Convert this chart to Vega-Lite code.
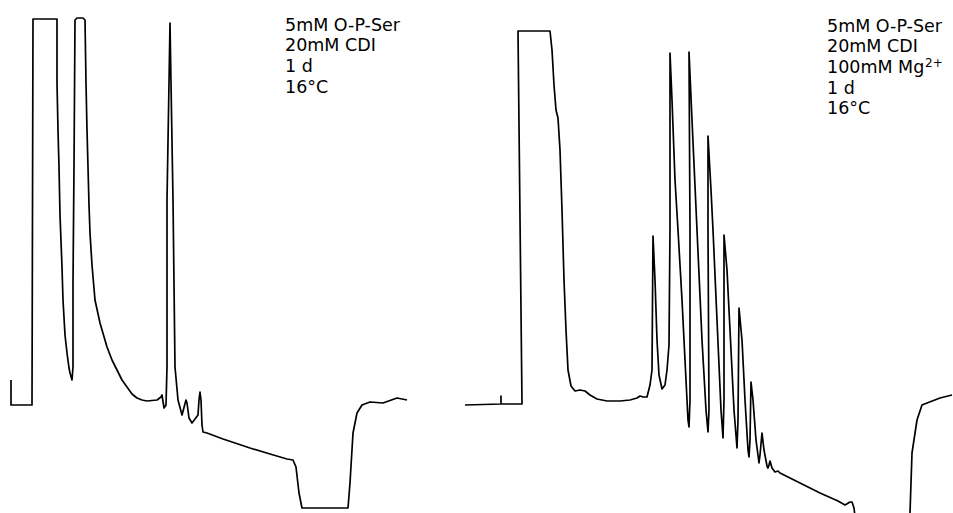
{
  "$schema": "https://vega.github.io/schema/vega-lite/v6.json",
  "width": 953,
  "height": 513,
  "autosize": {"type": "fit", "contains": "padding"},
  "padding": 0,
  "background": "white",
  "config": {"view": {"stroke": null}},
  "datasets": {
    "trace": [
      {"s":"A","i":1,"t":11,"v":133},{"s":"A","i":2,"t":11,"v":108},{"s":"A","i":3,"t":32,"v":108},{"s":"A","i":4,"t":33,"v":494},{"s":"A","i":5,"t":57,"v":494},{"s":"A","i":6,"t":57,"v":430},{"s":"A","i":7,"t":58,"v":383},{"s":"A","i":8,"t":59,"v":346},{"s":"A","i":9,"t":60,"v":298},{"s":"A","i":10,"t":62,"v":246},{"s":"A","i":11,"t":63,"v":213},{"s":"A","i":12,"t":65,"v":178},{"s":"A","i":13,"t":67,"v":160},{"s":"A","i":14,"t":69,"v":145},{"s":"A","i":15,"t":70,"v":140},{"s":"A","i":16,"t":72,"v":133},{"s":"A","i":17,"t":73,"v":146},{"s":"A","i":18,"t":73,"v":230},{"s":"A","i":19,"t":74,"v":346},{"s":"A","i":20,"t":75,"v":493},{"s":"A","i":21,"t":77,"v":495},{"s":"A","i":22,"t":83,"v":495},{"s":"A","i":23,"t":85,"v":493},{"s":"A","i":24,"t":86,"v":430},{"s":"A","i":25,"t":87,"v":383},{"s":"A","i":26,"t":88,"v":346},{"s":"A","i":27,"t":89,"v":308},{"s":"A","i":28,"t":90,"v":280},{"s":"A","i":29,"t":92,"v":248},{"s":"A","i":30,"t":95,"v":213},{"s":"A","i":31,"t":100,"v":190},{"s":"A","i":32,"t":107,"v":166},{"s":"A","i":33,"t":112,"v":153},{"s":"A","i":34,"t":117,"v":143},{"s":"A","i":35,"t":122,"v":133},{"s":"A","i":36,"t":127,"v":126},{"s":"A","i":37,"t":132,"v":119},{"s":"A","i":38,"t":137,"v":115},{"s":"A","i":39,"t":142,"v":113},{"s":"A","i":40,"t":147,"v":112},{"s":"A","i":41,"t":157,"v":113},{"s":"A","i":42,"t":161,"v":116},{"s":"A","i":43,"t":162,"v":118},{"s":"A","i":44,"t":164,"v":105},{"s":"A","i":45,"t":166,"v":108},{"s":"A","i":46,"t":167,"v":146},{"s":"A","i":47,"t":167,"v":313},{"s":"A","i":48,"t":169,"v":430},{"s":"A","i":49,"t":170,"v":490},{"s":"A","i":50,"t":171,"v":430},{"s":"A","i":51,"t":173,"v":313},{"s":"A","i":52,"t":175,"v":146},{"s":"A","i":53,"t":178,"v":113},{"s":"A","i":54,"t":182,"v":98},{"s":"A","i":55,"t":186,"v":113},{"s":"A","i":56,"t":187,"v":110},{"s":"A","i":57,"t":189,"v":95},{"s":"A","i":58,"t":192,"v":90},{"s":"A","i":59,"t":198,"v":98},{"s":"A","i":60,"t":199,"v":113},{"s":"A","i":61,"t":200,"v":121},{"s":"A","i":62,"t":201,"v":113},{"s":"A","i":63,"t":202,"v":88},{"s":"A","i":64,"t":203,"v":81},{"s":"A","i":65,"t":207,"v":80},{"s":"A","i":66,"t":223,"v":74},{"s":"A","i":67,"t":250,"v":65},{"s":"A","i":68,"t":270,"v":59},{"s":"A","i":69,"t":287,"v":54},{"s":"A","i":70,"t":293,"v":53},{"s":"A","i":71,"t":296,"v":46},{"s":"A","i":72,"t":299,"v":20},{"s":"A","i":73,"t":302,"v":5},{"s":"A","i":74,"t":348,"v":5},{"s":"A","i":75,"t":350,"v":30},{"s":"A","i":76,"t":353,"v":80},{"s":"A","i":77,"t":357,"v":100},{"s":"A","i":78,"t":362,"v":108},{"s":"A","i":79,"t":370,"v":111},{"s":"A","i":80,"t":383,"v":110},{"s":"A","i":81,"t":397,"v":115},{"s":"A","i":82,"t":407,"v":113},
      {"s":"B1","i":1,"t":465,"v":108},{"s":"B1","i":2,"t":501,"v":109},{"s":"B1","i":3,"t":501,"v":117},{"s":"B1","i":4,"t":501,"v":109},{"s":"B1","i":5,"t":522,"v":109},{"s":"B1","i":6,"t":518,"v":482},{"s":"B1","i":7,"t":550,"v":482},{"s":"B1","i":8,"t":552,"v":463},{"s":"B1","i":9,"t":554,"v":428},{"s":"B1","i":10,"t":556,"v":403},{"s":"B1","i":11,"t":558,"v":395},{"s":"B1","i":12,"t":560,"v":363},{"s":"B1","i":13,"t":562,"v":303},{"s":"B1","i":14,"t":564,"v":233},{"s":"B1","i":15,"t":566,"v":183},{"s":"B1","i":16,"t":568,"v":143},{"s":"B1","i":17,"t":571,"v":127},{"s":"B1","i":18,"t":575,"v":122},{"s":"B1","i":19,"t":580,"v":123},{"s":"B1","i":20,"t":585,"v":122},{"s":"B1","i":21,"t":590,"v":118},{"s":"B1","i":22,"t":597,"v":114},{"s":"B1","i":23,"t":607,"v":112},{"s":"B1","i":24,"t":620,"v":112},{"s":"B1","i":25,"t":630,"v":113},{"s":"B1","i":26,"t":637,"v":115},{"s":"B1","i":27,"t":640,"v":117},{"s":"B1","i":28,"t":643,"v":116},{"s":"B1","i":29,"t":647,"v":116},{"s":"B1","i":30,"t":650,"v":128},{"s":"B1","i":31,"t":652,"v":143},{"s":"B1","i":32,"t":653,"v":277},{"s":"B1","i":33,"t":655,"v":233},{"s":"B1","i":34,"t":657,"v":173},{"s":"B1","i":35,"t":659,"v":138},{"s":"B1","i":36,"t":662,"v":124},{"s":"B1","i":37,"t":665,"v":128},{"s":"B1","i":38,"t":667,"v":143},{"s":"B1","i":39,"t":669,"v":168},{"s":"B1","i":40,"t":670,"v":283},{"s":"B1","i":41,"t":670,"v":460},{"s":"B1","i":42,"t":672,"v":413},{"s":"B1","i":43,"t":675,"v":333},{"s":"B1","i":44,"t":678,"v":283},{"s":"B1","i":45,"t":682,"v":213},{"s":"B1","i":46,"t":686,"v":133},{"s":"B1","i":47,"t":688,"v":93},{"s":"B1","i":48,"t":689,"v":86},{"s":"B1","i":49,"t":690,"v":113},{"s":"B1","i":50,"t":690,"v":283},{"s":"B1","i":51,"t":689,"v":461},{"s":"B1","i":52,"t":692,"v":393},{"s":"B1","i":53,"t":697,"v":283},{"s":"B1","i":54,"t":702,"v":173},{"s":"B1","i":55,"t":706,"v":103},{"s":"B1","i":56,"t":708,"v":81},{"s":"B1","i":57,"t":709,"v":103},{"s":"B1","i":58,"t":708,"v":283},{"s":"B1","i":59,"t":708,"v":377},{"s":"B1","i":60,"t":711,"v":323},{"s":"B1","i":61,"t":713,"v":283},{"s":"B1","i":62,"t":717,"v":193},{"s":"B1","i":63,"t":721,"v":103},{"s":"B1","i":64,"t":723,"v":75},{"s":"B1","i":65,"t":724,"v":113},{"s":"B1","i":66,"t":724,"v":278},{"s":"B1","i":67,"t":727,"v":243},{"s":"B1","i":68,"t":730,"v":183},{"s":"B1","i":69,"t":734,"v":103},{"s":"B1","i":70,"t":737,"v":65},{"s":"B1","i":71,"t":738,"v":93},{"s":"B1","i":72,"t":739,"v":205},{"s":"B1","i":73,"t":742,"v":173},{"s":"B1","i":74,"t":745,"v":113},{"s":"B1","i":75,"t":748,"v":63},{"s":"B1","i":76,"t":749,"v":56},{"s":"B1","i":77,"t":750,"v":73},{"s":"B1","i":78,"t":751,"v":131},{"s":"B1","i":79,"t":753,"v":113},{"s":"B1","i":80,"t":756,"v":73},{"s":"B1","i":81,"t":759,"v":50},{"s":"B1","i":82,"t":760,"v":58},{"s":"B1","i":83,"t":762,"v":80},{"s":"B1","i":84,"t":764,"v":63},{"s":"B1","i":85,"t":767,"v":47},{"s":"B1","i":86,"t":768,"v":45},{"s":"B1","i":87,"t":769,"v":48},{"s":"B1","i":88,"t":770,"v":52},{"s":"B1","i":89,"t":772,"v":45},{"s":"B1","i":90,"t":775,"v":41},{"s":"B1","i":91,"t":778,"v":42},{"s":"B1","i":92,"t":780,"v":40},{"s":"B1","i":93,"t":800,"v":30},{"s":"B1","i":94,"t":820,"v":20},{"s":"B1","i":95,"t":838,"v":12},{"s":"B1","i":96,"t":845,"v":8},{"s":"B1","i":97,"t":850,"v":11},{"s":"B1","i":98,"t":852,"v":11},{"s":"B1","i":99,"t":854,"v":5},{"s":"B1","i":100,"t":856,"v":-12},
      {"s":"B2","i":1,"t":909,"v":-12},{"s":"B2","i":2,"t":910,"v":0},{"s":"B2","i":3,"t":912,"v":60},{"s":"B2","i":4,"t":917,"v":93},{"s":"B2","i":5,"t":922,"v":108},{"s":"B2","i":6,"t":927,"v":110},{"s":"B2","i":7,"t":940,"v":115},{"s":"B2","i":8,"t":952,"v":118}
    ],
    "labels": [
      {"panel":"left","t":285,"v":482.5,"label":"5mM O-P-Ser\n20mM CDI\n1 d\n16°C"},
      {"panel":"right","t":827,"v":481.5,"label":"5mM O-P-Ser\n20mM CDI\n100mM Mg\n1 d\n16°C"}
    ]
  },
  "layer": [
    {
      "data": {"name": "trace"},
      "mark": {"type": "line", "color": "black", "strokeWidth": 1.7, "clip": true, "interpolate": "linear", "strokeJoin": "round"},
      "encoding": {
        "x": {"field": "t", "type": "quantitative", "scale": {"domain": [0, 953], "nice": false, "zero": false}, "axis": null},
        "y": {"field": "v", "type": "quantitative", "scale": {"domain": [0, 513], "nice": false, "zero": false}, "axis": null},
        "detail": {"field": "s", "type": "nominal"},
        "order": {"field": "i", "type": "quantitative"}
      }
    },
    {
      "data": {"name": "labels"},
      "mark": {"type": "text", "align": "left", "baseline": "alphabetic", "font": "DejaVu Sans", "fontSize": 17.5, "lineBreak": "\n", "lineHeight": 20.7, "color": "black"},
      "encoding": {
        "x": {"field": "t", "type": "quantitative", "scale": {"domain": [0, 953], "nice": false, "zero": false}, "axis": null},
        "y": {"field": "v", "type": "quantitative", "scale": {"domain": [0, 513], "nice": false, "zero": false}, "axis": null},
        "text": {"field": "label", "type": "nominal"}
      }
    },
    {
      "data": {"name": "labels"},
      "transform": [{"filter": "datum.panel === 'right'"}],
      "mark": {"type": "text", "align": "left", "baseline": "alphabetic", "font": "DejaVu Sans", "fontSize": 12, "dx": 98, "dy": 35, "color": "black"},
      "encoding": {
        "x": {"field": "t", "type": "quantitative", "scale": {"domain": [0, 953], "nice": false, "zero": false}, "axis": null},
        "y": {"field": "v", "type": "quantitative", "scale": {"domain": [0, 513], "nice": false, "zero": false}, "axis": null},
        "text": {"value": "2+"}
      }
    }
  ]
}
